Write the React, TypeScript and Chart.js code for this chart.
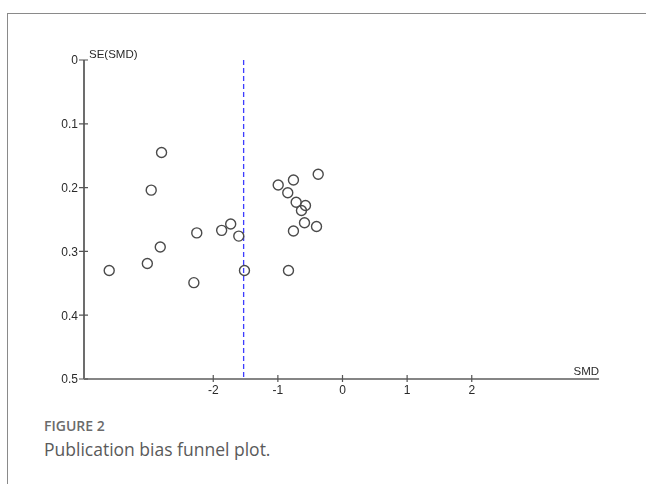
import React, { useEffect, useRef } from "react";
import { Chart, registerables } from "chart.js";

Chart.register(...registerables);

const smd = [
  -3.61, -2.96, -3.02, -2.82, -2.8, -2.255, -2.3, -1.87, -1.73, -1.605, -1.517,
  -0.995, -0.759, -0.847, -0.717, -0.573, -0.635, -0.588, -0.759, -0.402, -0.376, -0.836,
];
const seSmd = [
  0.33, 0.204, 0.319, 0.293, 0.145, 0.271, 0.349, 0.267, 0.257, 0.276, 0.33,
  0.196, 0.188, 0.208, 0.223, 0.228, 0.236, 0.255, 0.268, 0.261, 0.179, 0.33,
];
const pooledSmd = -1.53;
const xTicks = [-2, -1, 0, 1, 2];
const yTicks = [0, 0.1, 0.2, 0.3, 0.4, 0.5];
const xTitle = "SMD";
const yTitle = "SE(SMD)";
const figureLabel = "FIGURE 2";
const caption = "Publication bias funnel plot.";

const axesPlugin = {
  id: "funnelAxes",
  beforeDatasetsDraw(chart: any) {
    const ctx = chart.ctx;
    const xs = chart.scales.x;
    const ys = chart.scales.y;
    const x0 = xs.getPixelForValue(xs.min);
    const xEnd = xs.getPixelForValue(3.97);
    const yTop = ys.getPixelForValue(0);
    const yBot = ys.getPixelForValue(0.5);
    ctx.save();
    ctx.lineWidth = 1.8;
    ctx.strokeStyle = "#5e5e5e";
    ctx.beginPath();
    ctx.moveTo(x0, yTop);
    ctx.lineTo(x0, yBot);
    ctx.stroke();
    ctx.strokeStyle = "#858585";
    ctx.beginPath();
    ctx.moveTo(x0, yBot);
    ctx.lineTo(xEnd, yBot);
    ctx.stroke();
    ctx.lineWidth = 1.2;
    ctx.strokeStyle = "#555";
    ctx.beginPath();
    yTicks.forEach((v) => {
      const py = ys.getPixelForValue(v);
      ctx.moveTo(x0 - 5, py);
      ctx.lineTo(x0 + 4, py);
    });
    xTicks.forEach((v) => {
      const px = xs.getPixelForValue(v);
      ctx.moveTo(px, yBot - 4);
      ctx.lineTo(px, yBot + 3);
    });
    ctx.stroke();
    ctx.fillStyle = "#2a2a2a";
    ctx.font = "12px 'Liberation Sans', Arial, sans-serif";
    ctx.textAlign = "right";
    ctx.textBaseline = "middle";
    yTicks.forEach((v) => {
      const py = ys.getPixelForValue(v);
      ctx.fillText(String(v), x0 - 6, py + 1);
    });
    ctx.textAlign = "center";
    xTicks.forEach((v) => {
      const px = xs.getPixelForValue(v);
      ctx.fillText(String(v), px, yBot + 12);
    });
    ctx.font = "11.5px 'Liberation Sans', Arial, sans-serif";
    ctx.textAlign = "left";
    ctx.fillText(yTitle, x0 + 5, yTop - 5);
    ctx.textAlign = "right";
    ctx.fillText(xTitle, xEnd, yBot - 7);
    ctx.restore();
  },
};

export default function App() {
  const ref = useRef<HTMLCanvasElement>(null);
  useEffect(() => {
    if (!ref.current) return;
    const chart = new Chart(ref.current, {
      type: "scatter",
      data: {
        datasets: [
          {
            type: "line",
            data: [
              { x: pooledSmd, y: 0 },
              { x: pooledSmd, y: 0.5 },
            ],
            borderColor: "#3d3dff",
            borderWidth: 1.3,
            borderDash: [5, 3],
            pointRadius: 0,
            fill: false,
            order: 2,
          } as any,
          {
            data: smd.map((x, i) => ({ x, y: seSmd[i] })),
            pointStyle: "circle",
            pointRadius: 5,
            borderColor: "#4a4a4a",
            borderWidth: 1.4,
            backgroundColor: "rgba(255,255,255,0)",
            order: 1,
          },
        ],
      },
      options: {
        responsive: false,
        animation: false,
        devicePixelRatio: 1,
        layout: { padding: { left: 84, right: 45, top: 60, bottom: 410 - 379 } },
        plugins: { legend: { display: false }, tooltip: { enabled: false } },
        scales: {
          x: { type: "linear", min: -4, max: 4, display: false },
          y: { type: "linear", min: 0, max: 0.5, reverse: true, display: false },
        },
      } as any,
      plugins: [axesPlugin],
    });
    return () => chart.destroy();
  }, []);
  return (
    <div style={{ position: "fixed", left: 0, top: 0, width: 646, height: 484, background: "#fff" }}>
      <div
        style={{
          position: "absolute",
          left: 7,
          top: 13,
          width: 639,
          height: 471,
          borderTop: "1.5px solid #8a8a8a",
          borderLeft: "1.5px solid #8a8a8a",
        }}
      />
      <canvas ref={ref} width={646} height={410} style={{ position: "absolute", left: 0, top: 0 }} />
      <div
        style={{
          position: "absolute",
          left: 44,
          top: 417,
          fontFamily: "'Open Sans', sans-serif",
          fontWeight: 600,
          fontSize: 14,
          color: "#6b6b6b",
          lineHeight: "18px",
        }}
      >
        {figureLabel}
      </div>
      <div
        style={{
          position: "absolute",
          left: 44,
          top: 437,
          fontFamily: "'Open Sans', sans-serif",
          fontSize: 17.5,
          color: "#5a5a5a",
          lineHeight: "24px",
        }}
      >
        {caption}
      </div>
    </div>
  );
}
